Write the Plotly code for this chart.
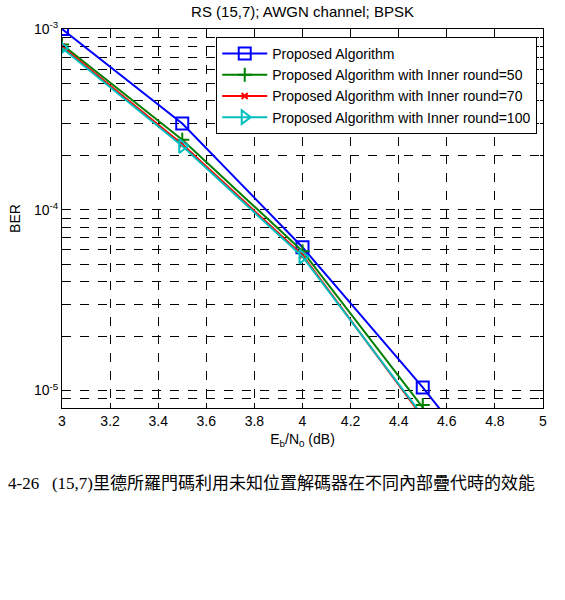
import numpy as np
import plotly.graph_objects as go

ebn0 = [3.0, 3.5, 4.0, 4.5, 5.0]
ber_proposed = [1.0e-3, 3.0e-4, 6.2e-5, 1.04e-5, 1.5e-6]
ber_inner50 = [8.2e-4, 2.44e-4, 5.9e-5, 8.3e-6, 1.1e-6]
ber_inner70 = [8.0e-4, 2.3e-4, 5.6e-5, 7.0e-6, 9.0e-7]
ber_inner100 = [7.85e-4, 2.25e-4, 5.5e-5, 7.2e-6, 9.5e-7]

names = ["Proposed Algorithm",
         "Proposed Algorithm with Inner round=50",
         "Proposed Algorithm with Inner round=70",
         "Proposed Algorithm with Inner round=100"]
colors = ["#0000ff", "#008000", "#ff0000", "#00bfbf"]
symbols = ["square-open", "cross-thin-open", "x-thin-open", "triangle-right-open"]
sizes = [12, 10, 6, 12]
series = [ber_proposed, ber_inner50, ber_inner70, ber_inner100]

xticks = [3, 3.2, 3.4, 3.6, 3.8, 4, 4.2, 4.4, 4.6, 4.8, 5]
xticktext = ["3", "3.2", "3.4", "3.6", "3.8", "4", "4.2", "4.4", "4.6", "4.8", "5"]
yticks = [1e-5, 1e-4, 1e-3]
yticktext = ["10<sup>-5</sup>", "10<sup>-4</sup>", "10<sup>-3</sup>"]

fig = go.Figure()
for name, c, s, sz, y in zip(names, colors, symbols, sizes, series):
    fig.add_trace(go.Scatter(
        x=ebn0, y=y, name=name, mode="lines+markers",
        line=dict(color=c, width=2),
        marker=dict(symbol=s, size=sz, color=c, line=dict(color=c, width=2)),
        cliponaxis=True,
    ))

axis_font = dict(family="Liberation Sans, Arial", size=14, color="black")
fig.update_layout(
    width=565, height=600,
    margin=dict(l=62, r=22, t=29, b=192),
    paper_bgcolor="white", plot_bgcolor="white",
    title=dict(text="RS (15,7); AWGN channel; BPSK", x=0.5, xanchor="center",
               xref="paper", y=1 - 12 / 600, yanchor="middle",
               font=dict(family="Liberation Sans, Arial", size=15, color="black")),
    showlegend=True,
    legend=dict(x=0.988, y=0.979, xanchor="right", yanchor="top",
                bordercolor="black", borderwidth=1, bgcolor="white",
                font=dict(family="Liberation Sans, Arial", size=14, color="black"),
                tracegroupgap=0, itemwidth=45),
    xaxis=dict(range=[3, 5], tickvals=xticks, ticktext=xticktext,
               showline=True, linecolor="black", linewidth=1, mirror="ticks",
               ticks="inside", ticklen=5, tickcolor="black",
               showgrid=True, gridcolor="black", griddash="dash", gridwidth=0.6,
               zeroline=False, tickfont=axis_font,
               title=dict(text="E<sub>b</sub>/N<sub>0</sub> (dB)", font=axis_font, standoff=6)),
    yaxis=dict(type="log", range=[np.log10(8e-6), -3], tickvals=yticks, ticktext=yticktext,
               showline=True, linecolor="black", linewidth=1, mirror="ticks",
               ticks="inside", ticklen=5, tickcolor="black",
               showgrid=True, gridcolor="black", griddash="dash", gridwidth=0.6,
               minor=dict(dtick="D1", showgrid=True, gridcolor="black", griddash="dash",
                          gridwidth=0.6, ticks="inside", ticklen=3, tickcolor="black"),
               zeroline=False, tickfont=axis_font,
               title=dict(text="BER", font=axis_font, standoff=10)),
)

fig.add_annotation(
    text="4-26   (15,7)里德所羅門碼利用未知位置解碼器在不同內部疊代時的效能",
    xref="paper", yref="paper", x=(6 - 62) / 481, y=-(483 - 408) / 379,
    xanchor="left", yanchor="middle",
    showarrow=False,
    font=dict(family="Liberation Serif, Noto Sans CJK TC", size=17, color="black"),
)

fig.write_html("out.html")
